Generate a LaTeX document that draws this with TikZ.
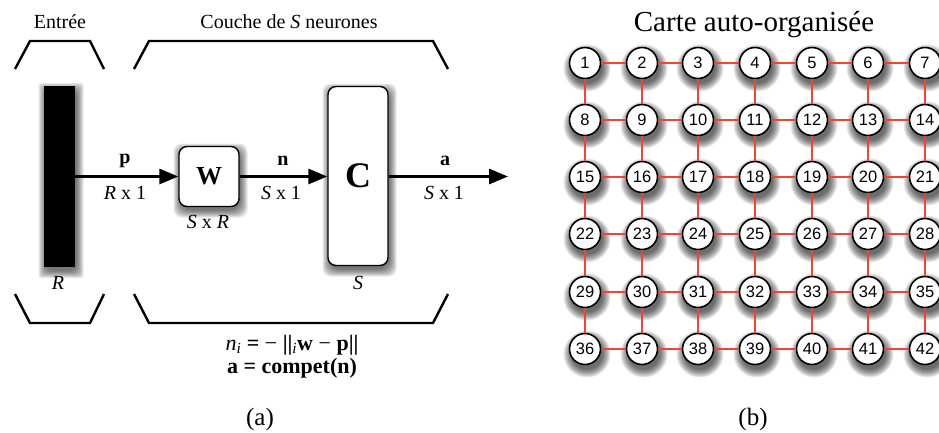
\documentclass[tikz,border=0pt]{standalone}
\usepackage{fontspec}
\setmainfont{Liberation Serif}
\newfontfamily\numfont{Liberation Sans}
\usetikzlibrary{arrows.meta}
\begin{document}
\begin{tikzpicture}[x=1pt,y=-1pt,
  bracket/.style={line width=2.4pt, line join=miter},
  flow/.style={line width=3pt, -{Triangle[length=19pt,width=15pt]}},
  box/.style={draw, line width=1.4pt, fill=white, rounded corners=8pt, inner sep=0pt},
  lab/.style={font=\fontsize{20}{22}\selectfont, inner sep=0pt},
  bold/.style={font=\fontsize{20}{22}\selectfont\bfseries, inner sep=0pt},
  cell/.style={circle, draw, line width=1.6pt, fill=white, minimum size=31pt, inner sep=0pt,
    font=\numfont\fontsize{16.5}{16.5}\selectfont},
  link/.style={draw={rgb,255:red,238;green,70;blue,50}, line width=2pt},
  shade/.style={fill=black, opacity=0.09, draw=none}]
\useasboundingbox (0,0) rectangle (939,432);

% ---------- (a) ----------
\node[font=\fontsize{20}{22}\selectfont] (entree) at (60,22) {Entrée};
\node[font=\fontsize{20}{22}\selectfont] (couche) at (289,22) {Couche de \textit{S} neurones};

\draw[bracket] (15,69) -- (30,41) -- (90,41) -- (104,69);
\draw[bracket] (134,69) -- (149,41) -- (433,41) -- (448,69);
\draw[bracket] (15,294) -- (30,323) -- (90,323) -- (104,294);
\draw[bracket] (134,294) -- (149,323) -- (433,323) -- (448,294);

% soft shadows
\foreach \d in {0,1,...,7}{
  \fill[shade, rounded corners={2pt+\d*0.8pt}] ({44+1.5-7+\d},{86+4-7+\d}) rectangle ({75+1.5+7-\d},{267+4+7-\d});
  \fill[shade, rounded corners={8pt+\d*0.5pt}] ({179+1.5-7+\d},{146.5+4-7+\d}) rectangle ({239+1.5+7-\d},{206.5+4+7-\d});
  \fill[shade, rounded corners={8pt+\d*0.5pt}] ({328+1.5-7+\d},{86.5+4-7+\d}) rectangle ({388+1.5+7-\d},{265.5+4+7-\d});
}
\foreach \y in {63,120,177,234,292,349}{
  \foreach \x in {585,642,698,755,812,868,925}{
    \foreach \d in {0,1,...,8}{
      \fill[shade] ({\x+2},{\y+5}) circle ({23.5pt-\d*1pt});
    }
  }
}

\node[fill=black, minimum width=31pt, minimum height=181pt, inner sep=0pt] (bar) at (59.5,176.5) {};
\node[box, minimum width=60pt, minimum height=60pt] (W) at (209,176.5) {\fontsize{26}{26}\selectfont\bfseries W};
\node[box, minimum width=60pt, minimum height=179pt] (C) at (358,176) {\fontsize{36}{36}\selectfont\bfseries C};
\coordinate (out) at (508,176.5);

\draw[flow] (bar.east) -- (W.west);
\draw[flow] (W.east) -- (C.west |- W.east);
\draw[flow] (C.east |- W.east) -- (out);

\node[bold] (p) at (125,161) {p};
\node[lab] (px) at (125,193) {\textit{R} x 1};
\node[bold] (n) at (283,161) {n};
\node[lab] (nx) at (281,193) {\textit{S} x 1};
\node[bold] (a) at (445,161) {a};
\node[lab] (ax) at (444,193) {\textit{S} x 1};
\node[lab] (wx) at (208,222) {\textit{S} x \textit{R}};
\node[lab] (R) at (58,283) {\textit{R}};
\node[lab] (S) at (358,283) {\textit{S}};

\node[font=\fontsize{22}{24}\selectfont, inner sep=0pt] (f1) at (292,345)
  {\textit{n}\textsubscript{\textit{i}} \textbf{=} − \textbf{||}\textsubscript{\textit{i}}\textbf{w} − \textbf{p||}};
\node[font=\fontsize{22}{24}\selectfont\bfseries, inner sep=0pt] (f2) at (292,368) {a = compet(n)};
\node[font=\fontsize{25}{27}\selectfont] (capa) at (260,419) {(a)};

% ---------- (b) ----------
\node[font=\fontsize{29}{31}\selectfont] (title) at (754,25) {Carte auto-organisée};

\foreach \y [count=\r from 0] in {63,120,177,234,292,349}{
  \foreach \x [count=\c from 0] in {585,642,698,755,812,868,925}{
    \pgfmathtruncatemacro\k{\r*7+\c+1}
    \node[cell] (n\k) at (\x,\y) {\k};
  }
}
\foreach \r in {0,...,5}{
  \foreach \c in {0,...,5}{
    \pgfmathtruncatemacro\k{\r*7+\c+1}
    \pgfmathtruncatemacro\j{\k+1}
    \draw[link] (n\k) -- (n\j);
  }
}
\foreach \r in {0,...,4}{
  \foreach \c in {0,...,6}{
    \pgfmathtruncatemacro\k{\r*7+\c+1}
    \pgfmathtruncatemacro\j{\k+7}
    \draw[link] (n\k) -- (n\j);
  }
}
\node[font=\fontsize{25}{27}\selectfont] (capb) at (753,419) {(b)};
\end{tikzpicture}
\end{document}
